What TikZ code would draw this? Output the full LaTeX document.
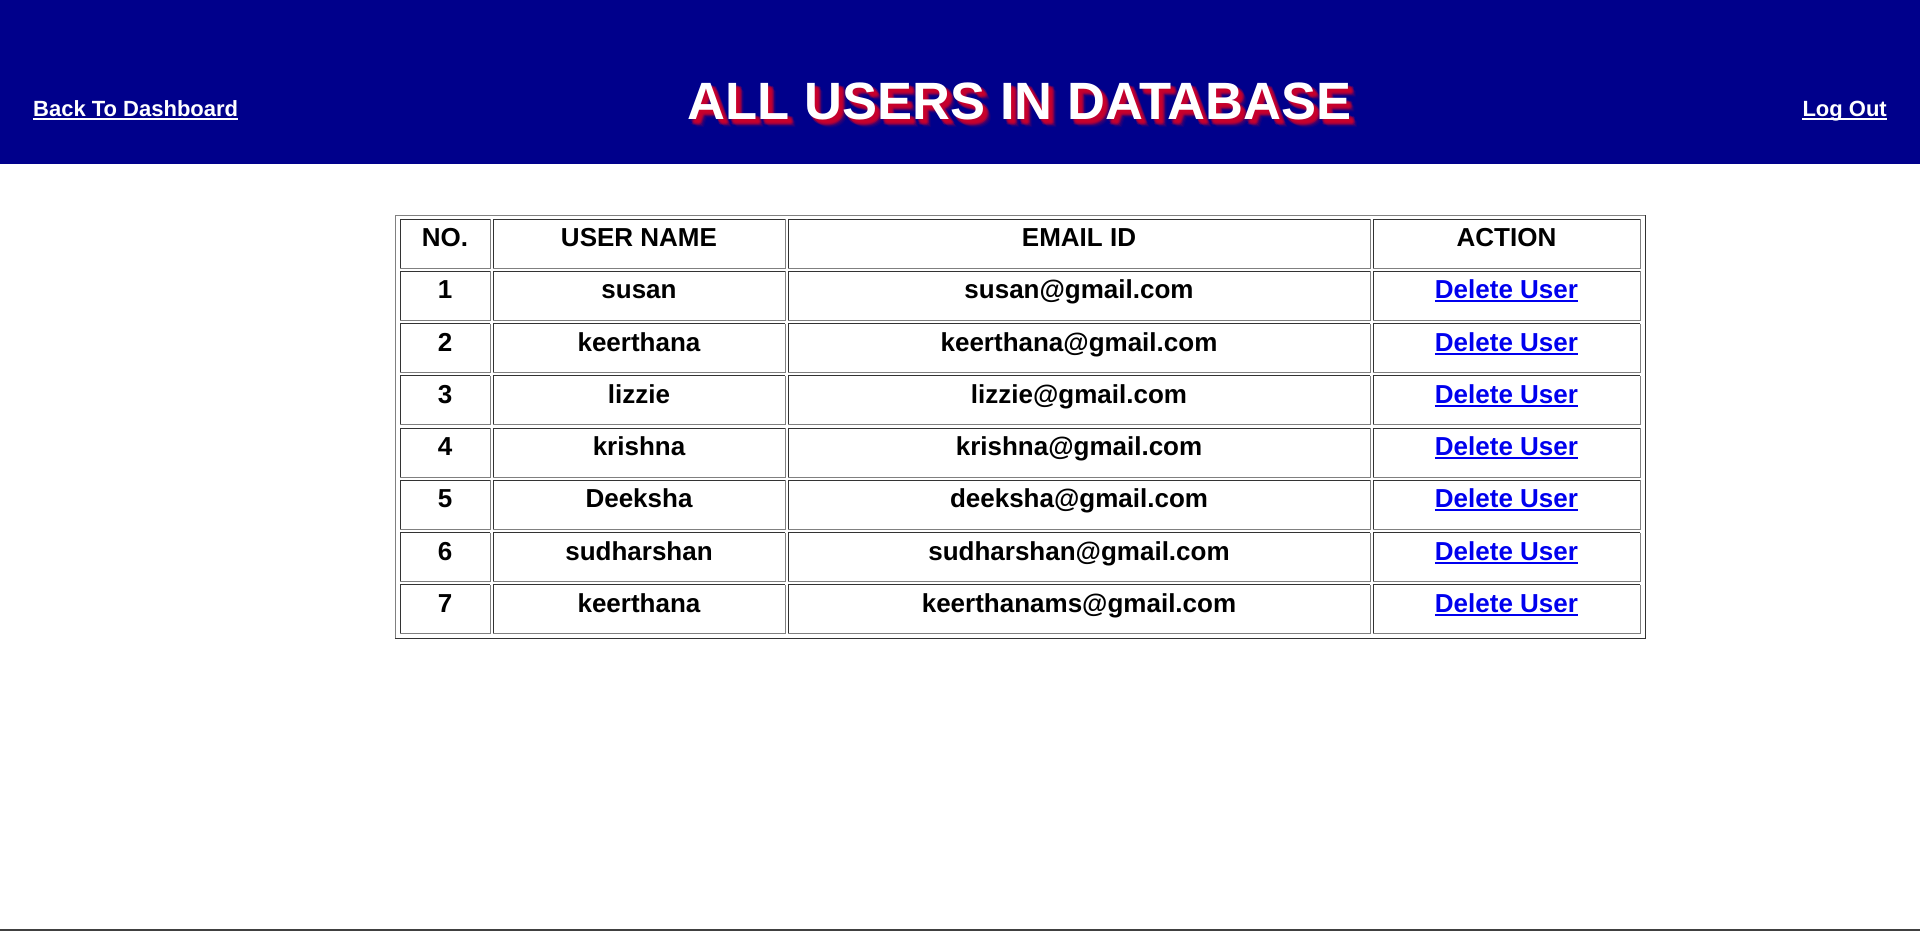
\documentclass[tikz,border=0pt]{standalone}
\usepackage{fontspec}
\setmainfont{Liberation Sans}
\definecolor{hdrblue}{RGB}{0,0,139}
\definecolor{shadowred}{RGB}{215,0,40}
\definecolor{linkblue}{RGB}{0,0,238}
\definecolor{darkedge}{RGB}{51,51,51}
\definecolor{lightedge}{RGB}{128,128,128}
\definecolor{footline}{RGB}{64,64,64}
\newcommand\drawcell[4]{%
  \draw[darkedge,line width=1pt] (#1,#4) -- (#1,#2) -- (#3,#2);
  \draw[lightedge,line width=1pt] (#3,#2) -- (#3,#4) -- (#1,#4);}
\begin{document}
\begin{tikzpicture}[x=1pt,y=-1pt,
  titletext/.style={anchor=base,inner sep=0pt,font=\fontsize{52.5}{60}\selectfont\bfseries},
  navlink/.style={anchor=base west,inner sep=0pt,text=white,font=\fontsize{22}{26}\selectfont\bfseries},
  celltext/.style={anchor=base,inner sep=0pt,font=\fontsize{26}{30}\selectfont\bfseries},
  dellink/.style={celltext,text=linkblue},
  uline/.style={line width=2pt}]
\useasboundingbox (0,0) rectangle (1920,931);
% header bar
\fill[hdrblue] (0,0) rectangle (1920,164);
% footer line
\fill[footline] (0,929) rectangle (1920,931);
% title shadow (blur approximation)
\foreach \dx/\dy/\op [count=\i] in {2/2/0.2,3/3/0.3,4/4/0.4,5/5/0.3,6/6/0.2,3/5/0.25,5/3/0.25,7/7/0.12,4/6/0.2,6/4/0.2,8/8/0.08}
  \node[titletext,text=shadowred,opacity=\op] (shadow\i) at (1019.5+\dx,120+\dy) {ALL USERS IN DATABASE};
\node[titletext,text=white] (title) at (1019.5,120) {ALL USERS IN DATABASE};
% navigation links
\node[navlink] (back) at (33,116.5) {Back To Dashboard};
\draw[white,uline] ([yshift=-2.5pt]back.base west) -- ([yshift=-2.5pt]back.base east);
\node[navlink,anchor=base east] (logout) at (1887,116.5) {Log Out};
\draw[white,uline] ([yshift=-2.5pt]logout.base west) -- ([yshift=-2.5pt]logout.base east);
% table outer border
\draw[lightedge,line width=1pt] (395,638) -- (395,215) -- (1645,215);
\draw[darkedge,line width=1pt] (1645,215) -- (1645,638) -- (395,638);
% header row
\drawcell{400}{219}{490}{268}
\drawcell{493}{219}{785}{268}
\drawcell{788}{219}{1370}{268}
\drawcell{1373}{219}{1640}{268}
\node[celltext] (h1) at (445,246) {NO.};
\node[celltext] (h2) at (639,246) {USER NAME};
\node[celltext] (h3) at (1079,246) {EMAIL ID};
\node[celltext] (h4) at (1506.5,246) {ACTION};
% data rows
\foreach \r/\nm/\em in {1/susan/susan@gmail.com,2/keerthana/keerthana@gmail.com,3/lizzie/lizzie@gmail.com,4/krishna/krishna@gmail.com,5/Deeksha/deeksha@gmail.com,6/sudharshan/sudharshan@gmail.com,7/keerthana/keerthanams@gmail.com}{
  \pgfmathsetmacro\yt{219+52.25*\r}
  \pgfmathsetmacro\yb{\yt+49}
  \pgfmathsetmacro\yl{\yt+27.5}
  \drawcell{400}{\yt}{490}{\yb}
  \drawcell{493}{\yt}{785}{\yb}
  \drawcell{788}{\yt}{1370}{\yb}
  \drawcell{1373}{\yt}{1640}{\yb}
  \node[celltext] (no\r) at (445,\yl) {\r};
  \node[celltext] (name\r) at (639,\yl) {\nm};
  \node[celltext] (mail\r) at (1079,\yl) {\em};
  \node[dellink] (del\r) at (1506.5,\yl) {Delete User};
  \draw[linkblue,uline] ([yshift=-2.5pt]del\r.base west) -- ([yshift=-2.5pt]del\r.base east);
}
\end{tikzpicture}
\end{document}
